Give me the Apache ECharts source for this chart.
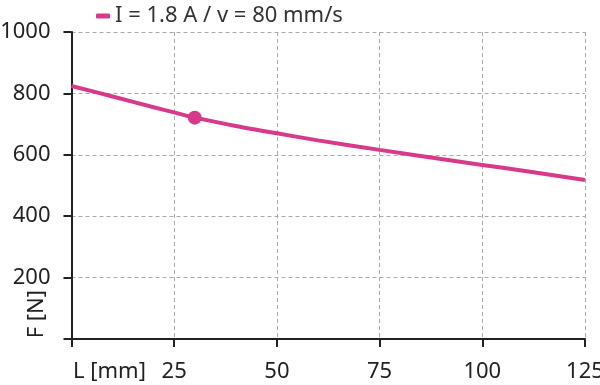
<!DOCTYPE html>
<html>
<head>
<meta charset="utf-8">
<script src="https://cdn.jsdelivr.net/npm/echarts@6/dist/echarts.min.js"></script>
<style>html,body{margin:0;padding:0;background:#fff}#c{width:600px;height:385px}</style>
</head>
<body>
<div id="c"></div>
<script>
var seriesName = 'I = 1.8 A / v = 80 mm/s';
var lengths = [0, 10, 20, 25, 30, 40, 50, 60, 75, 90, 100, 110, 125];
var forces = [824, 790, 755, 738, 721, 694, 670, 647, 616, 586, 567, 548, 518];
var markerPoint = [30, 721];
var xTicks = [0, 25, 50, 75, 100, 125];
var yTicks = [0, 200, 400, 600, 800, 1000];
var xName = 'L [mm]';
var yName = 'F [N]';

var color = '#d9398b';
var font = 'Noto Sans';
var fs = 22;
var chart = echarts.init(document.getElementById('c'));
chart.setOption({
  animation: false,
  textStyle: {fontFamily: font},
  legend: {
    left: 91, top: 0,
    icon: 'roundRect', itemWidth: 14, itemHeight: 5, itemGap: 10,
    textStyle: {fontFamily: font, fontSize: 22, color: '#333'},
    data: [seriesName]
  },
  grid: {left: 71.5, right: 15, top: 32, bottom: 46, containLabel: false, outerBoundsMode: 'none'},
  xAxis: {
    type: 'value', min: 0, max: 125, interval: 25,
    axisLine: {show: true, lineStyle: {color: '#222', width: 2}},
    axisTick: {show: true, length: 8, lineStyle: {color: '#222', width: 2}},
    splitLine: {show: true, lineStyle: {color: '#aaa', type: [4, 3], width: 1}},
    axisLabel: {
      margin: 22, fontSize: fs, color: '#222', fontFamily: font,
      formatter: function (v) { return v === 0 ? '{n|' + xName + '}' : String(v); },
      rich: {n: {fontSize: fs, fontFamily: font, color: '#222', padding: [0, 0, 0, 76]}}
    }
  },
  yAxis: {
    type: 'value', min: 0, max: 1000, interval: 200,
    axisLine: {show: true, lineStyle: {color: '#222', width: 2}},
    axisTick: {show: true, length: 8, lineStyle: {color: '#222', width: 2}},
    splitLine: {show: true, lineStyle: {color: '#aaa', type: [4, 3], width: 1}},
    axisLabel: {
      margin: 21, fontSize: fs, color: '#222', fontFamily: font,
      formatter: function (v) { return v === 0 ? '' : String(v); }
    }
  },
  graphic: [{
    type: 'text', left: 26, top: 290,
    rotation: Math.PI / 2,
    style: {text: yName, fontSize: fs, fontFamily: font, fill: '#222'}
  }],
  series: [{
    name: seriesName, type: 'line', smooth: 0.3,
    showSymbol: false, symbol: 'none',
    lineStyle: {color: color, width: 4},
    itemStyle: {color: color},
    data: lengths.map(function (x, i) { return [x, forces[i]]; })
  }, {
    name: 'marker', type: 'scatter', symbolSize: 14,
    itemStyle: {color: color, opacity: 1},
    data: [markerPoint]
  }]
});
</script>
</body>
</html>
